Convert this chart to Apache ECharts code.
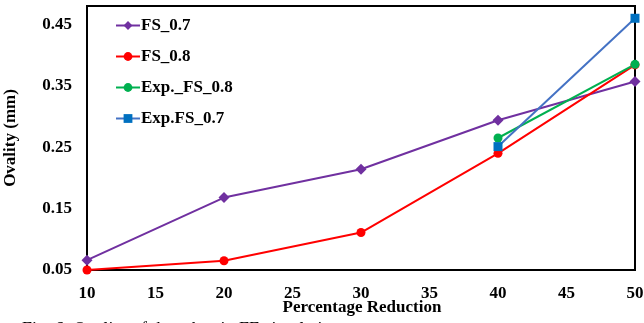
<!DOCTYPE html>
<html>
<head>
<meta charset="utf-8">
<script src="https://cdn.jsdelivr.net/npm/echarts@6/dist/echarts.min.js"></script>
<style>
  html, body { margin: 0; padding: 0; background: #fff; }
  #chart { width: 644px; height: 323px; }
</style>
</head>
<body>
<div id="chart"></div>
<script>
// Percentage reduction (x) and ovality in mm (y) for each series
const reductionFE = [10, 20, 30, 40, 50];
const reductionExp = [40, 50];
const fs07 = [0.066, 0.168, 0.214, 0.294, 0.357];
const fs08 = [0.050, 0.065, 0.111, 0.240, 0.384];
const expFs08 = [0.265, 0.385];
const expFs07 = [0.251, 0.460];

const seriesNames = ['FS_0.7', 'FS_0.8', 'Exp._FS_0.8', 'Exp.FS_0.7'];
const xTitle = 'Percentage Reduction';
const yTitle = 'Ovality (mm)';
const caption = 'Fig. 6: Ovality of the tubes in FE simulation';

const pairs = (xs, ys) => xs.map((x, i) => [x, ys[i]]);
const font = '"Liberation Serif", "Times New Roman", serif';

const chart = echarts.init(document.getElementById('chart'));
chart.setOption({
  animation: false,
  textStyle: { fontFamily: font },
  grid: {
    left: 87, right: 9, top: 6, bottom: 53,
    outerBoundsMode: 'none', containLabel: false,
    show: true, borderColor: '#000', borderWidth: 2
  },
  legend: {
    orient: 'vertical',
    left: 110, top: 12,
    itemWidth: 24, itemHeight: 11, itemGap: 14,
    data: seriesNames,
    textStyle: { fontFamily: font, fontWeight: 'bold', fontSize: 17, color: '#000', padding: [0, 0, 0, -4] }
  },
  xAxis: {
    type: 'value', min: 10, max: 50, interval: 5,
    name: xTitle, nameLocation: 'middle', nameGap: 29, nameMoveOverlap: false,
    nameTextStyle: { fontFamily: font, fontWeight: 'bold', fontSize: 17, color: '#000', padding: [0, 0, 0, 2] },
    axisLine: { show: true, lineStyle: { color: '#000', width: 2 } },
    axisTick: { show: false },
    splitLine: { show: false },
    axisLabel: { fontFamily: font, fontWeight: 'bold', fontSize: 17, color: '#000', margin: 15 }
  },
  yAxis: {
    type: 'value', min: 0.05, max: 0.48, interval: 0.1,
    name: yTitle, nameLocation: 'middle', nameGap: 68,
    nameTextStyle: { fontFamily: font, fontWeight: 'bold', fontSize: 17, color: '#000' },
    axisLine: { show: true, lineStyle: { color: '#000', width: 2 } },
    axisTick: { show: false },
    splitLine: { show: false },
    axisLabel: {
      fontFamily: font, fontWeight: 'bold', fontSize: 17, color: '#000', margin: 15,
      showMaxLabel: false,
      formatter: v => v.toFixed(2)
    }
  },
  series: [
    {
      name: seriesNames[0], type: 'line', data: pairs(reductionFE, fs07),
      symbol: 'diamond', symbolSize: 11,
      lineStyle: { color: '#7030A0', width: 2 }, itemStyle: { color: '#7030A0' }
    },
    {
      name: seriesNames[1], type: 'line', data: pairs(reductionFE, fs08),
      symbol: 'circle', symbolSize: 9,
      lineStyle: { color: '#FF0000', width: 2 }, itemStyle: { color: '#FF0000' }
    },
    {
      name: seriesNames[2], type: 'line', data: pairs(reductionExp, expFs08),
      symbol: 'circle', symbolSize: 9,
      lineStyle: { color: '#00B050', width: 2 }, itemStyle: { color: '#00B050' }
    },
    {
      name: seriesNames[3], type: 'line', data: pairs(reductionExp, expFs07),
      symbol: 'rect', symbolSize: 9,
      lineStyle: { color: '#4472C4', width: 2 }, itemStyle: { color: '#0070C0' }
    }
  ],
  graphic: [{
    type: 'text', left: 22, top: 321,
    style: { text: caption, font: '18px "Liberation Serif", serif', fill: '#000' }
  }]
});
</script>
</body>
</html>
